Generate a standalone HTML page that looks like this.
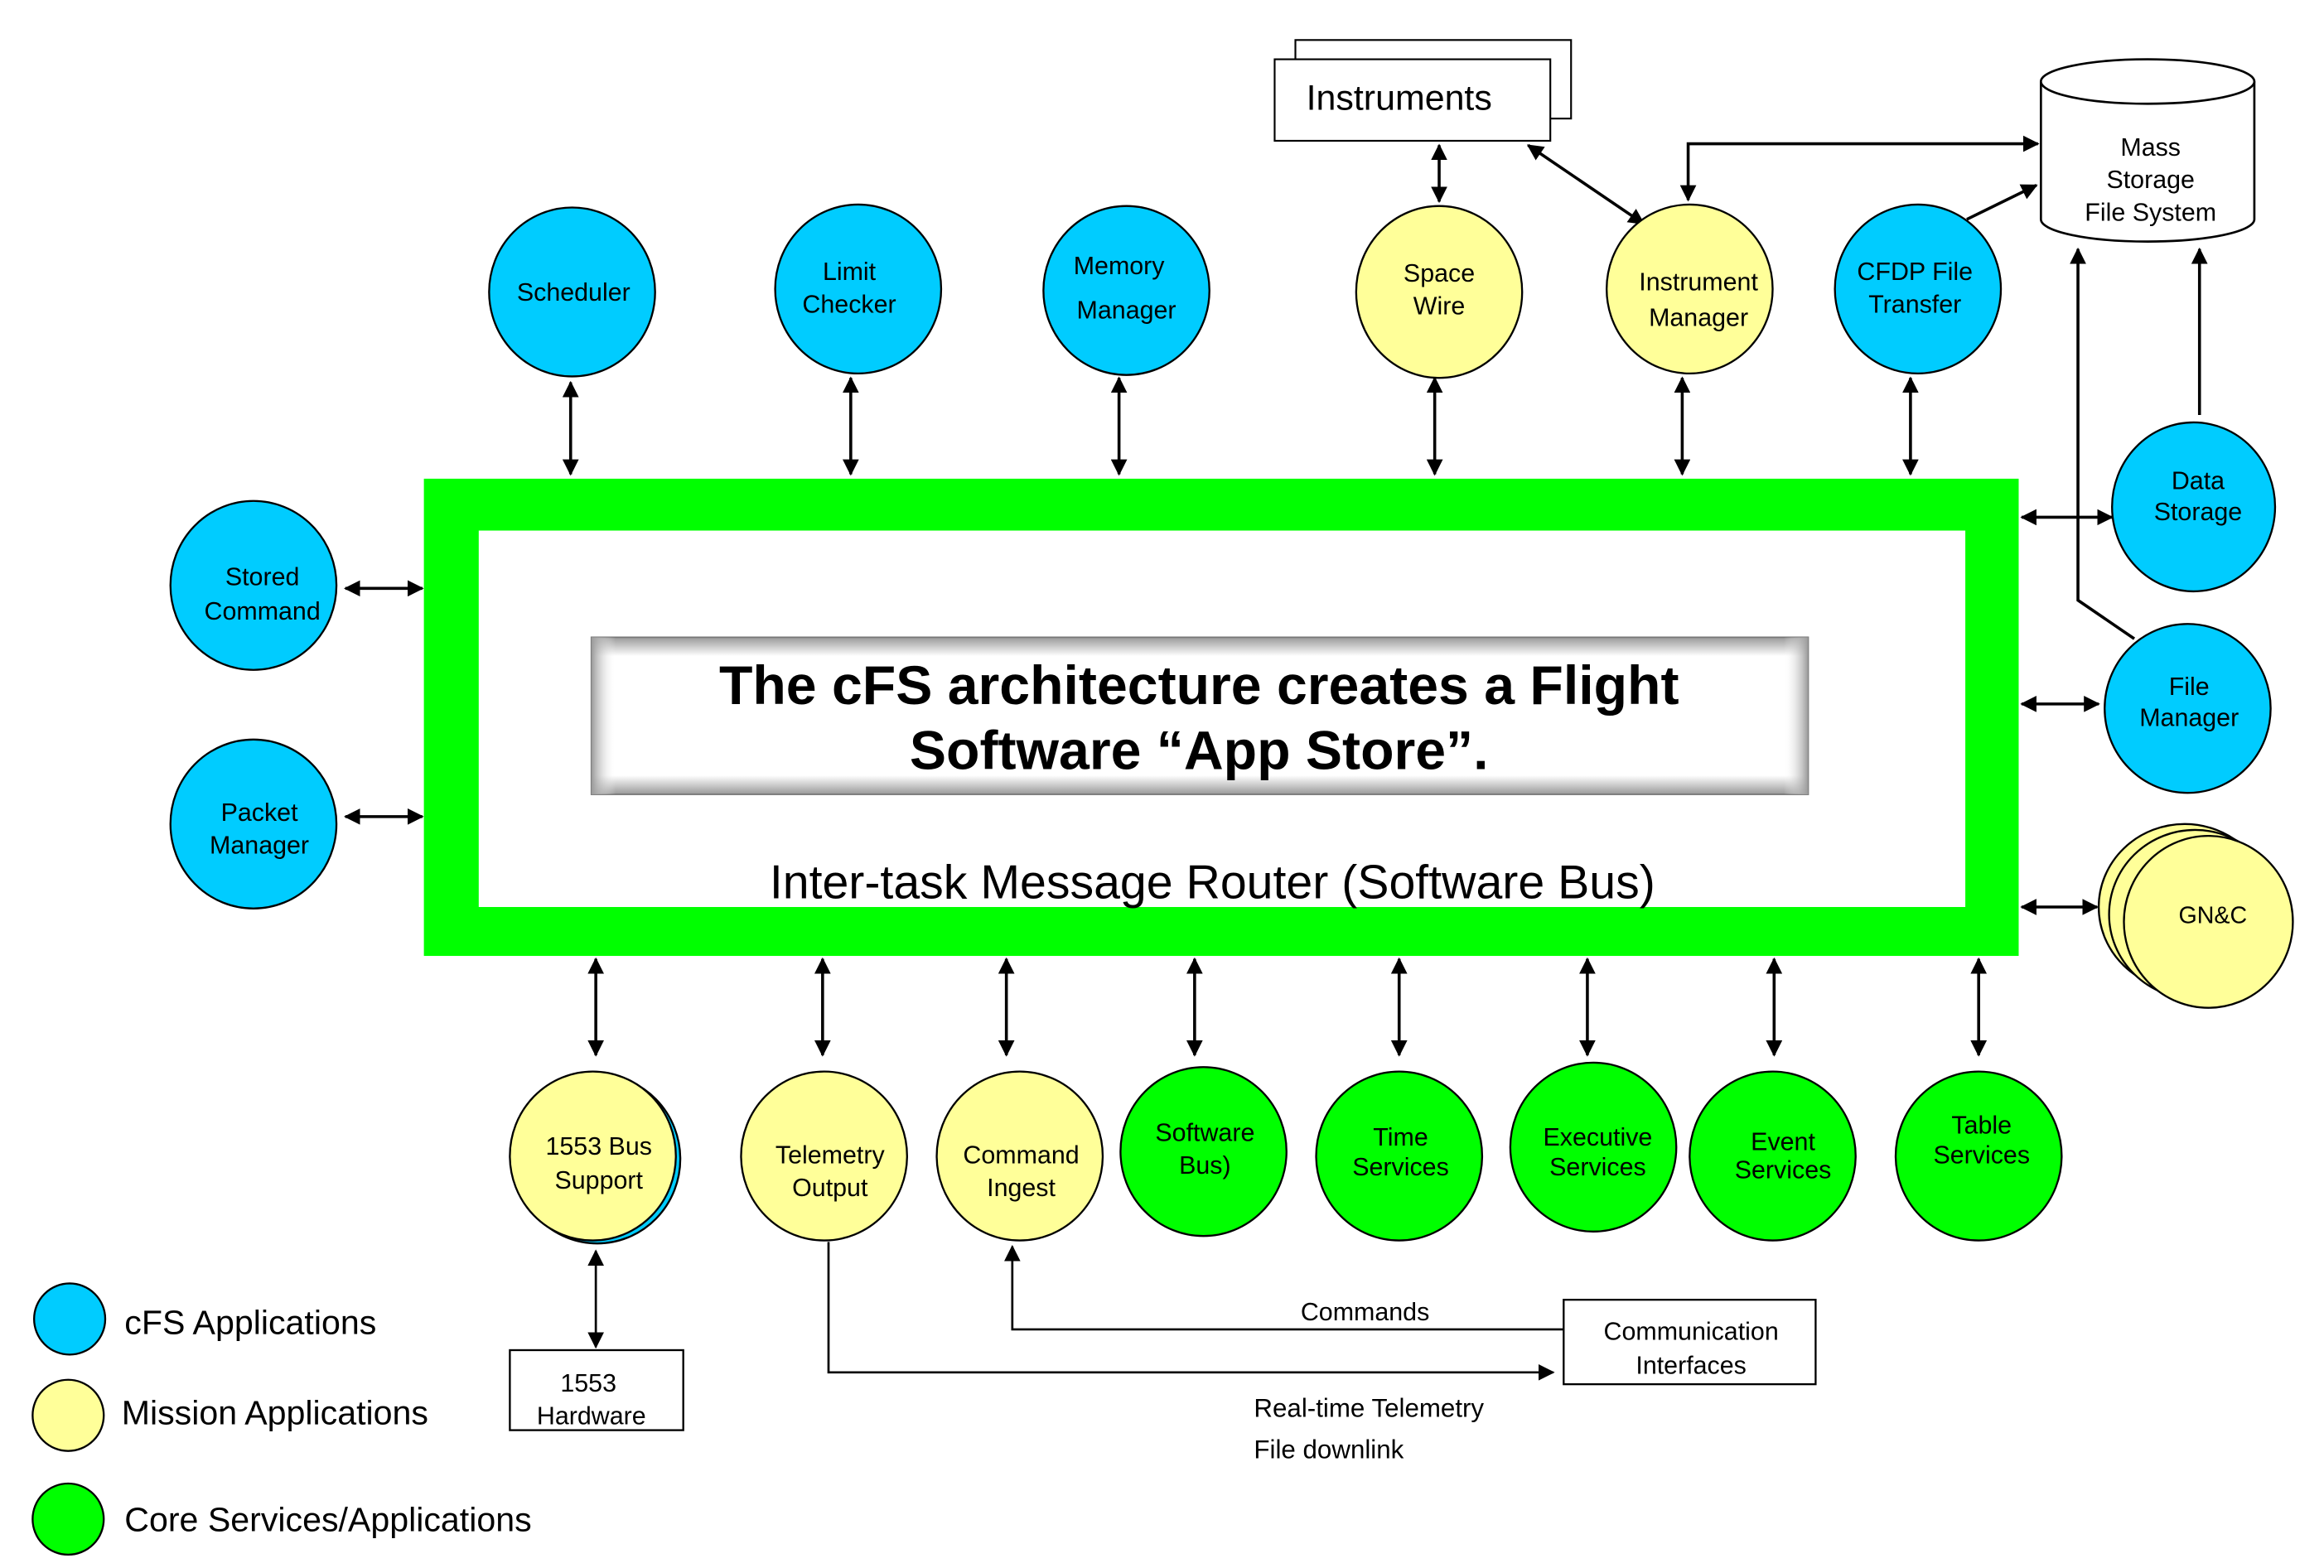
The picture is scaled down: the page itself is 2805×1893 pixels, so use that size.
<!DOCTYPE html>
<html><head><meta charset="utf-8"><style>
html,body{margin:0;padding:0;background:#fff;}
svg{display:block;}
text{font-family:"Liberation Sans",Arial,sans-serif;fill:#000;}
</style></head><body>
<svg width="2805" height="1893" viewBox="0 0 1568 1058" preserveAspectRatio="none" xmlns="http://www.w3.org/2000/svg">
<defs>
<marker id="ah" markerWidth="11" markerHeight="11" refX="10" refY="5.5" orient="auto-start-reverse" markerUnits="userSpaceOnUse"><path d="M0,0 L11,5.5 L0,11 z" fill="#000"/></marker>
<linearGradient id="gv" x1="0" y1="0" x2="0" y2="1"><stop offset="0" stop-color="#999"/><stop offset="0.12" stop-color="#fff"/><stop offset="0.88" stop-color="#fff"/><stop offset="1" stop-color="#999"/></linearGradient>
<linearGradient id="gh" x1="0" y1="0" x2="1" y2="0"><stop offset="0" stop-color="#999" stop-opacity="1"/><stop offset="0.02" stop-color="#fff" stop-opacity="0"/><stop offset="0.98" stop-color="#fff" stop-opacity="0"/><stop offset="1" stop-color="#999" stop-opacity="1"/></linearGradient>
</defs>
<rect width="1568" height="1058" fill="#fff"/>

<rect x="286" y="323" width="1076" height="322" fill="#00ff00"/>
<rect x="323" y="358" width="1003" height="254" fill="#fff"/>

<rect x="399" y="430" width="821" height="106" fill="url(#gv)" stroke="#777" stroke-width="1"/>
<rect x="399" y="430" width="821" height="106" fill="url(#gh)"/>
<text x="809" y="475" font-size="37" font-weight="bold" text-anchor="middle">The cFS architecture creates a Flight</text>
<text x="809" y="519" font-size="37" font-weight="bold" text-anchor="middle">Software “App Store”.</text>
<text x="818" y="606" font-size="32" text-anchor="middle">Inter-task Message Router (Software Bus)</text>

<g stroke="#000" stroke-width="2" fill="none">
<line x1="385" y1="258" x2="385" y2="320" marker-start="url(#ah)" marker-end="url(#ah)"/>
<line x1="574" y1="255" x2="574" y2="320" marker-start="url(#ah)" marker-end="url(#ah)"/>
<line x1="755" y1="255" x2="755" y2="320" marker-start="url(#ah)" marker-end="url(#ah)"/>
<line x1="968" y1="255" x2="968" y2="320" marker-start="url(#ah)" marker-end="url(#ah)"/>
<line x1="1135" y1="255" x2="1135" y2="320" marker-start="url(#ah)" marker-end="url(#ah)"/>
<line x1="1289" y1="255" x2="1289" y2="320" marker-start="url(#ah)" marker-end="url(#ah)"/>
<line x1="971" y1="98" x2="971" y2="136" marker-start="url(#ah)" marker-end="url(#ah)"/>
<line x1="1031" y1="98" x2="1109" y2="151" marker-start="url(#ah)" marker-end="url(#ah)"/>
<polyline points="1139,135 1139,97 1375,97" marker-start="url(#ah)" marker-end="url(#ah)"/>
<line x1="1327" y1="148" x2="1374" y2="125" marker-end="url(#ah)"/>
<line x1="1484" y1="280" x2="1484" y2="168" marker-end="url(#ah)"/>
<polyline points="1440,431 1402,405 1402,168" marker-end="url(#ah)"/>
<line x1="233" y1="397" x2="285" y2="397" marker-start="url(#ah)" marker-end="url(#ah)"/>
<line x1="233" y1="551" x2="285" y2="551" marker-start="url(#ah)" marker-end="url(#ah)"/>
<line x1="1364" y1="349" x2="1425" y2="349" marker-start="url(#ah)" marker-end="url(#ah)"/>
<line x1="1364" y1="475" x2="1416" y2="475" marker-start="url(#ah)" marker-end="url(#ah)"/>
<line x1="1364" y1="612" x2="1415" y2="612" marker-start="url(#ah)" marker-end="url(#ah)"/>
<line x1="402" y1="647" x2="402" y2="712" marker-start="url(#ah)" marker-end="url(#ah)"/>
<line x1="555" y1="647" x2="555" y2="712" marker-start="url(#ah)" marker-end="url(#ah)"/>
<line x1="679" y1="647" x2="679" y2="712" marker-start="url(#ah)" marker-end="url(#ah)"/>
<line x1="806" y1="647" x2="806" y2="712" marker-start="url(#ah)" marker-end="url(#ah)"/>
<line x1="944" y1="647" x2="944" y2="712" marker-start="url(#ah)" marker-end="url(#ah)"/>
<line x1="1071" y1="647" x2="1071" y2="712" marker-start="url(#ah)" marker-end="url(#ah)"/>
<line x1="1197" y1="647" x2="1197" y2="712" marker-start="url(#ah)" marker-end="url(#ah)"/>
<line x1="1335" y1="647" x2="1335" y2="712" marker-start="url(#ah)" marker-end="url(#ah)"/>
<line x1="402" y1="844" x2="402" y2="909" stroke-width="1.5" marker-start="url(#ah)" marker-end="url(#ah)"/>
<polyline points="1055,897 683,897 683,841" stroke-width="1.5" marker-end="url(#ah)"/>
<polyline points="559,838 559,926 1048,926" stroke-width="1.5" marker-end="url(#ah)"/>
</g>

<rect x="874" y="27" width="186" height="53" fill="#fff" stroke="#000" stroke-width="1.2"/>
<rect x="860" y="40" width="186" height="55" fill="#fff" stroke="#000" stroke-width="1.2"/>
<text x="944" y="74" font-size="24" text-anchor="middle">Instruments</text>

<path d="M1377,55 L1377,148 A72,15 0 0 0 1521,148 L1521,55" fill="#fff" stroke="#000" stroke-width="1.5"/>
<ellipse cx="1449" cy="55" rx="72" ry="15" fill="#fff" stroke="#000" stroke-width="1.5"/>
<text x="1451" y="105" font-size="17" text-anchor="middle">Mass</text>
<text x="1451" y="127" font-size="17" text-anchor="middle">Storage</text>
<text x="1451" y="149" font-size="17" text-anchor="middle">File System</text>

<g stroke="#000" stroke-width="1.3" font-size="17">
<ellipse cx="386" cy="197" rx="56" ry="57" fill="#00ccff"/>
<ellipse cx="579" cy="195" rx="56" ry="57" fill="#00ccff"/>
<ellipse cx="760" cy="196" rx="56" ry="57" fill="#00ccff"/>
<ellipse cx="971" cy="197" rx="56" ry="58" fill="#ffff99"/>
<ellipse cx="1140" cy="195" rx="56" ry="57" fill="#ffff99"/>
<ellipse cx="1294" cy="195" rx="56" ry="57" fill="#00ccff"/>
<ellipse cx="171" cy="395" rx="56" ry="57" fill="#00ccff"/>
<ellipse cx="171" cy="556" rx="56" ry="57" fill="#00ccff"/>
<ellipse cx="1480" cy="342" rx="55" ry="57" fill="#00ccff"/>
<ellipse cx="1476" cy="478" rx="56" ry="57" fill="#00ccff"/>
<ellipse cx="1474" cy="612" rx="58" ry="56" fill="#ffff99"/>
<ellipse cx="1481" cy="617" rx="58" ry="57" fill="#ffff99"/>
<ellipse cx="1490" cy="622" rx="57" ry="58" fill="#ffff99"/>
<ellipse cx="403" cy="782" rx="56" ry="57" fill="#00ccff"/>
<ellipse cx="400" cy="780" rx="56" ry="57" fill="#ffff99"/>
<ellipse cx="556" cy="780" rx="56" ry="57" fill="#ffff99"/>
<ellipse cx="688" cy="780" rx="56" ry="57" fill="#ffff99"/>
<ellipse cx="812" cy="777" rx="56" ry="57" fill="#00ff00"/>
<ellipse cx="944" cy="780" rx="56" ry="57" fill="#00ff00"/>
<ellipse cx="1075" cy="774" rx="56" ry="57" fill="#00ff00"/>
<ellipse cx="1196" cy="780" rx="56" ry="57" fill="#00ff00"/>
<ellipse cx="1335" cy="780" rx="56" ry="57" fill="#00ff00"/>
<ellipse cx="47" cy="890" rx="24" ry="24" fill="#00ccff"/>
<ellipse cx="46" cy="955" rx="24" ry="24" fill="#ffff99"/>
<ellipse cx="46" cy="1025" rx="24" ry="24" fill="#00ff00"/>
</g>

<g font-size="17" text-anchor="middle">
<text x="387" y="203">Scheduler</text>
<text x="573" y="189">Limit</text><text x="573" y="211">Checker</text>
<text x="755" y="185">Memory</text><text x="760" y="215">Manager</text>
<text x="971" y="190">Space</text><text x="971" y="212">Wire</text>
<text x="1146" y="196">Instrument</text><text x="1146" y="220">Manager</text>
<text x="1292" y="189">CFDP File</text><text x="1292" y="211">Transfer</text>
<text x="177" y="395">Stored</text><text x="177" y="418">Command</text>
<text x="175" y="554">Packet</text><text x="175" y="576">Manager</text>
<text x="1483" y="330">Data</text><text x="1483" y="351">Storage</text>
<text x="1477" y="469">File</text><text x="1477" y="490">Manager</text>
<text x="1493" y="623" font-size="16">GN&amp;C</text>
<text x="404" y="779">1553 Bus</text><text x="404" y="802">Support</text>
<text x="560" y="785">Telemetry</text><text x="560" y="807">Output</text>
<text x="689" y="785">Command</text><text x="689" y="807">Ingest</text>
<text x="813" y="770">Software</text><text x="813" y="792">Bus)</text>
<text x="945" y="773">Time</text><text x="945" y="793">Services</text>
<text x="1078" y="773">Executive</text><text x="1078" y="793">Services</text>
<text x="1203" y="776">Event</text><text x="1203" y="795">Services</text>
<text x="1337" y="765">Table</text><text x="1337" y="785">Services</text>
</g>

<rect x="344" y="911" width="117" height="54" fill="#fff" stroke="#000" stroke-width="1.3"/>
<text x="397" y="939" font-size="17" text-anchor="middle">1553</text>
<text x="399" y="961" font-size="17" text-anchor="middle">Hardware</text>
<rect x="1055" y="877" width="170" height="57" fill="#fff" stroke="#000" stroke-width="1.3"/>
<text x="1141" y="904" font-size="17" text-anchor="middle">Communication</text>
<text x="1141" y="927" font-size="17" text-anchor="middle">Interfaces</text>
<text x="921" y="891" font-size="17" text-anchor="middle">Commands</text>
<text x="846" y="956" font-size="17.5">Real-time Telemetry</text>
<text x="846" y="984" font-size="17.5">File downlink</text>

<text x="84" y="900" font-size="23">cFS Applications</text>
<text x="82" y="961" font-size="23">Mission Applications</text>
<text x="84" y="1033" font-size="23">Core Services/Applications</text>
</svg>
</body></html>
